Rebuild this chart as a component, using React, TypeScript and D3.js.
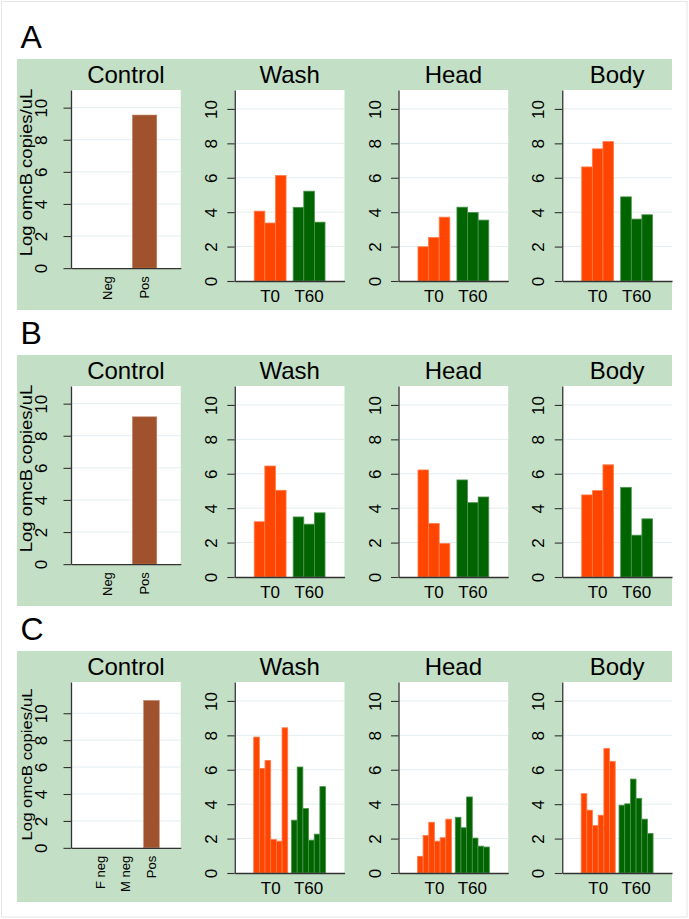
import React, { useEffect, useRef } from 'react';
import * as d3 from 'd3';

// facet and category labels
const rowLetters = ['A', 'B', 'C'];
const facetNames = ['Control', 'Wash', 'Head', 'Body'];
const timePoints = ['T0', 'T60'];
const controlCatsAB = ['Neg', 'Pos'];
const controlCatsC = ['F neg', 'M neg', 'Pos'];
const yTicks = [0, 2, 4, 6, 8, 10];
const yTitle = 'Log omcB copies/uL';

// log omcB copies/uL, row A
const ctrlA = [0, 9.54];
const washA_T0 = [4.06, 3.37, 6.13];
const washA_T60 = [4.28, 5.22, 3.42];
const headA_T0 = [1.99, 2.53, 3.71];
const headA_T60 = [4.29, 3.98, 3.54];
const bodyA_T0 = [6.63, 7.68, 8.1];
const bodyA_T60 = [4.89, 3.6, 3.85];

// row B
const ctrlB = [0, 9.18];
const washB_T0 = [3.21, 6.45, 5.04];
const washB_T60 = [3.49, 3.07, 3.73];
const headB_T0 = [6.22, 3.11, 1.95];
const headB_T60 = [5.64, 4.32, 4.65];
const bodyB_T0 = [4.77, 5.02, 6.52];
const bodyB_T60 = [5.21, 2.43, 3.38];

// row C
const ctrlC = [0, 0, 10.95];
const washC_T0 = [7.9, 6.08, 6.54, 1.95, 1.85, 8.44];
const washC_T60 = [3.07, 6.16, 3.75, 1.91, 2.26, 5.02];
const headC_T0 = [0.97, 2.18, 2.95, 1.85, 2.05, 3.13];
const headC_T60 = [3.24, 2.63, 4.42, 2.03, 1.56, 1.51];
const bodyC_T0 = [4.61, 3.65, 2.76, 3.36, 7.24, 6.49];
const bodyC_T60 = [3.94, 4.02, 5.46, 4.34, 3.13, 2.3];

const rows = [
  { letter: rowLetters[0], cats: controlCatsAB, ctrl: ctrlA,
    facets: [[washA_T0, washA_T60], [headA_T0, headA_T60], [bodyA_T0, bodyA_T60]] },
  { letter: rowLetters[1], cats: controlCatsAB, ctrl: ctrlB,
    facets: [[washB_T0, washB_T60], [headB_T0, headB_T60], [bodyB_T0, bodyB_T60]] },
  { letter: rowLetters[2], cats: controlCatsC, ctrl: ctrlC,
    facets: [[washC_T0, washC_T60], [headC_T0, headC_T60], [bodyC_T0, bodyC_T60]] },
];

const W = 689;
const H = 919;
const FONT = '"Liberation Sans", Arial, Helvetica, sans-serif';
const BG = '#c3dfc5';
const ORANGE = '#ff4500';
const GREEN = '#006400';
const BROWN = '#a0522d';
const GRID = '#e4edf0';
const AXIS = '#333';

const rowTops = [59, 355, 651];
const rowH = 251;
const left = 17;
const right = 672;
const subW = (right - left) / 4;
const yTitleSize = [18.5, 18.5, 16.8];

const edge = (c: string) => d3.interpolateRgb(c, '#fff')(0.3);

function App() {
  const svgRef = useRef<SVGSVGElement>(null);

  useEffect(() => {
    const svg = d3.select(svgRef.current);
    svg.selectAll('*').remove();

    // faint frame round the figure
    svg.append('rect')
      .attr('x', 1.5).attr('y', 1.5)
      .attr('width', 685.5).attr('height', 915.5)
      .attr('fill', 'none').attr('stroke', '#e6e6e6');

    rows.forEach((row, r) => {
      const T = rowTops[r];
      const g = svg.append('g');

      g.append('rect')
        .attr('x', left).attr('y', T)
        .attr('width', right - left).attr('height', rowH)
        .attr('fill', BG);

      g.append('text')
        .attr('x', 20.5).attr('y', T - 11)
        .attr('font-family', FONT).attr('font-size', 32)
        .text(row.letter);

      facetNames.forEach((name, f) => {
        const sx = left + f * subW;
        const px0 = sx + 54;
        const px1 = sx + subW;
        const top = T + 31;
        const isCtrl = f === 0;

        // control plot sits higher to leave room for the rotated labels
        let zero = T + 222;
        if (isCtrl) {
          const tmp = g.append('text').attr('font-family', FONT).attr('font-size', 13);
          let maxLen = 0;
          row.cats.forEach(c => {
            tmp.text(c);
            maxLen = Math.max(maxLen, (tmp.node() as SVGTextElement).getComputedTextLength());
          });
          tmp.remove();
          zero = T + 241 - 8 - maxLen;
        }

        const yMax = isCtrl ? Math.max(11.1, (d3.max(row.ctrl) as number) * 1.125) : 11.1;
        const y = d3.scaleLinear().domain([0, yMax]).range([zero, top]);

        g.append('text')
          .attr('x', (px0 + px1) / 2).attr('y', T + 23.7)
          .attr('text-anchor', 'middle')
          .attr('font-family', FONT).attr('font-size', 24)
          .text(name);

        g.append('rect')
          .attr('x', px0).attr('y', top)
          .attr('width', px1 - px0).attr('height', zero - top)
          .attr('fill', '#fff');

        g.append('g')
          .selectAll('line')
          .data(yTicks.slice(1))
          .enter()
          .append('line')
          .attr('x1', px0).attr('x2', px1)
          .attr('y1', d => y(d)).attr('y2', d => y(d))
          .attr('stroke', GRID).attr('stroke-width', 1);

        if (isCtrl) {
          const x = d3.scaleBand<string>()
            .domain(row.cats)
            .range([px0, px1])
            .paddingInner(row.cats.length > 2 ? 0.39 : 0.35)
            .paddingOuter(row.cats.length > 2 ? 0.84 : 0.64);

          g.append('g')
            .selectAll('rect')
            .data(row.cats.map((c, i) => ({ c, v: row.ctrl[i] })).filter(d => d.v > 0))
            .enter()
            .append('rect')
            .attr('x', d => x(d.c) as number)
            .attr('y', d => y(d.v))
            .attr('width', x.bandwidth())
            .attr('height', d => zero - y(d.v))
            .attr('fill', BROWN)
            .attr('stroke', edge(BROWN)).attr('stroke-width', 0.6);

          const xAxis = g.append('g')
            .attr('transform', `translate(0,${zero})`)
            .call(d3.axisBottom(x).tickSize(0).tickSizeOuter(0));
          xAxis.selectAll('text')
            .attr('x', 0).attr('y', 0)
            .attr('dy', '0.35em')
            .attr('text-anchor', 'end')
            .attr('transform', 'translate(0,8) rotate(-90)')
            .attr('font-family', FONT).attr('font-size', 13).attr('fill', '#000');
          xAxis.select('.domain').attr('stroke', AXIS).attr('stroke-width', 1.3);

          // y title, slightly condensed across its height
          g.append('text')
            .attr('transform', `translate(32,${T + 113.5}) rotate(-90) scale(1,0.9)`)
            .attr('text-anchor', 'middle')
            .attr('font-family', FONT).attr('font-size', yTitleSize[r])
            .text(yTitle);
        } else {
          const series = row.facets[f - 1];
          const nb = series[0].length;
          const xg = d3.scaleBand<string>()
            .domain(timePoints)
            .range([px0, px1])
            .paddingInner(0.67 / (nb + 0.67))
            .paddingOuter(0.5);
          const xb = d3.scaleBand<number>()
            .domain(d3.range(nb))
            .range([0, xg.bandwidth()]);

          timePoints.forEach((t, ti) => {
            const col = ti === 0 ? ORANGE : GREEN;
            g.append('g')
              .attr('transform', `translate(${xg(t)},0)`)
              .selectAll('rect')
              .data(series[ti])
              .enter()
              .append('rect')
              .attr('x', (_d, i) => xb(i) as number)
              .attr('y', d => y(d))
              .attr('width', xb.bandwidth())
              .attr('height', d => zero - y(d))
              .attr('fill', col)
              .attr('stroke', edge(col)).attr('stroke-width', 0.8);
          });

          const xAxis = g.append('g')
            .attr('transform', `translate(0,${zero})`)
            .call(d3.axisBottom(xg).tickSize(0).tickSizeOuter(0));
          xAxis.selectAll('text')
            .attr('y', 21).attr('dy', null)
            .attr('font-family', FONT).attr('font-size', 17).attr('fill', '#000');
          xAxis.select('.domain').attr('stroke', AXIS).attr('stroke-width', 1.3);
        }

        // left axis with rotated tick labels
        const off = isCtrl ? 24.3 : 18;
        const yAxis = g.append('g')
          .attr('transform', `translate(${px0},0)`)
          .call(d3.axisLeft(y).tickValues(yTicks).tickSize(7.5).tickSizeOuter(0).tickFormat(d3.format('d')));
        yAxis.select('.domain').attr('stroke', AXIS).attr('stroke-width', 1.3);
        yAxis.selectAll('.tick line').attr('stroke', AXIS).attr('stroke-width', 1.1);
        yAxis.selectAll('.tick text')
          .attr('x', null).attr('dy', null)
          .attr('text-anchor', 'middle')
          .attr('transform', `translate(${-off},0) rotate(-90) scale(1,0.95)`)
          .attr('font-family', FONT).attr('font-size', 17).attr('fill', '#000');
      });
    });
  }, []);

  return (
    <svg
      ref={svgRef}
      width={W}
      height={H}
      style={{ position: 'absolute', left: 0, top: 0, background: '#fff' }}
    />
  );
}

export default App;
